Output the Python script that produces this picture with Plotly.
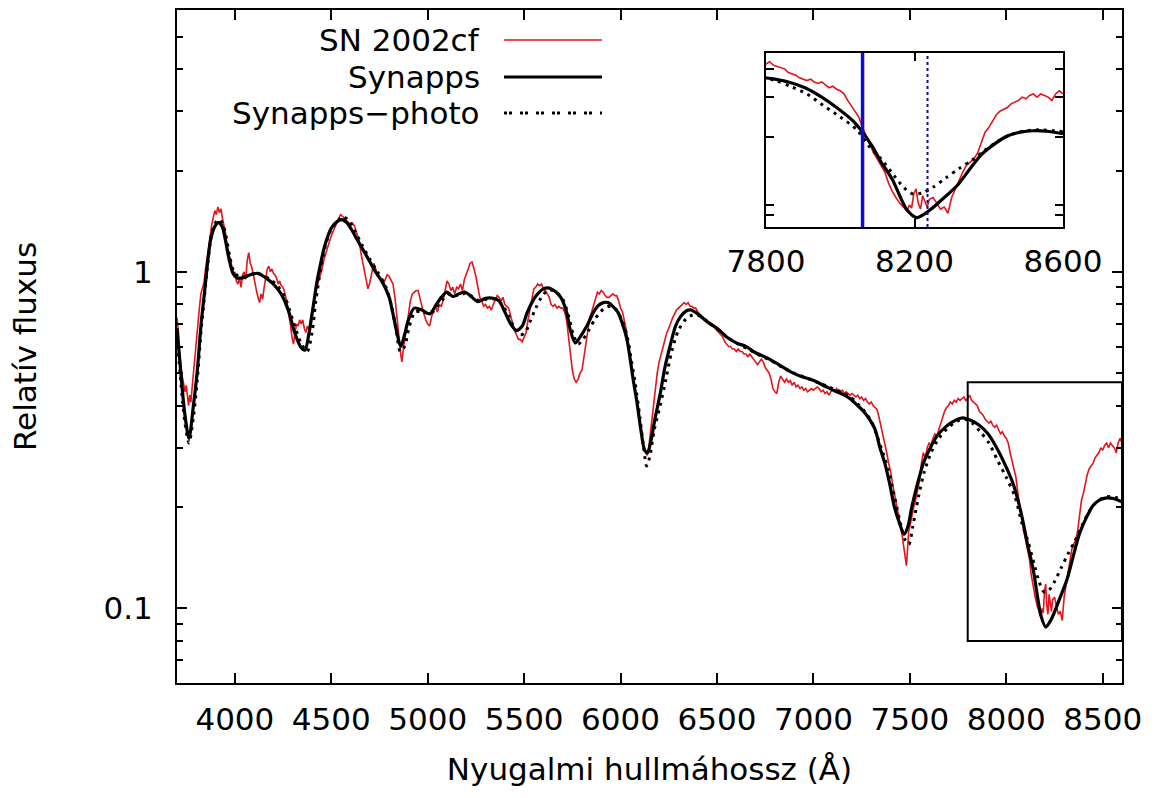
import plotly.graph_objects as go
import math

# ---------------- data ----------------
wave_obs = [3700,3706,3712,3718,3724,3730,3736,3742,3748,3754,3760,3766,3772,3778,3785,3792,3800,3808,3816,3824,3832,3840,3848,3856,3864,3872,3880,3888,3896,3904,3912,3920,3928,3936,3944,3952,3960,3968,3976,3984,3992,4000,4008,4016,4024,4032,4040,4048,4056,4064,4072,4080,4088,4096,4104,4112,4120,4128,4136,4144,4152,4160,4168,4176,4184,4192,4200,4208,4216,4224,4232,4240,4248,4256,4264,4272,4280,4288,4296,4304,4312,4320,4328,4336,4344,4352,4360,4368,4376,4384,4392,4400,4410,4420,4430,4440,4452,4464,4476,4488,4500,4512,4524,4536,4548,4560,4572,4584,4596,4608,4620,4632,4644,4656,4668,4680,4690,4700,4710,4720,4730,4740,4750,4760,4770,4780,4790,4800,4810,4820,4830,4840,4850,4860,4866,4872,4880,4890,4900,4910,4920,4930,4940,4950,4960,4970,4980,4990,5000,5010,5020,5030,5040,5050,5060,5070,5080,5090,5100,5110,5120,5130,5140,5150,5160,5170,5180,5190,5200,5210,5220,5230,5240,5250,5260,5270,5280,5290,5300,5310,5320,5330,5340,5350,5360,5370,5380,5390,5400,5410,5420,5430,5440,5450,5460,5470,5480,5490,5500,5510,5520,5530,5540,5550,5560,5570,5580,5590,5600,5610,5620,5630,5640,5650,5660,5670,5680,5690,5700,5710,5720,5730,5740,5750,5760,5770,5780,5790,5800,5810,5820,5830,5840,5850,5860,5870,5880,5890,5900,5910,5920,5930,5940,5950,5960,5970,5980,5990,6000,6010,6020,6030,6040,6050,6060,6070,6080,6090,6100,6110,6120,6130,6138,6146,6154,6162,6170,6180,6190,6200,6210,6220,6230,6240,6250,6260,6270,6280,6290,6300,6310,6320,6330,6340,6350,6360,6370,6380,6390,6400,6410,6420,6430,6440,6450,6460,6470,6480,6490,6500,6510,6520,6530,6540,6550,6560,6570,6580,6590,6600,6610,6620,6630,6640,6650,6660,6670,6680,6690,6700,6710,6720,6730,6740,6750,6760,6770,6780,6790,6800,6810,6820,6830,6840,6850,6860,6870,6880,6890,6900,6910,6920,6930,6940,6950,6960,6970,6980,6990,7000,7010,7020,7030,7040,7050,7060,7070,7080,7090,7100,7110,7120,7130,7140,7150,7160,7170,7180,7190,7200,7210,7220,7230,7240,7250,7260,7270,7280,7290,7300,7310,7320,7330,7340,7350,7360,7370,7380,7390,7400,7410,7420,7430,7440,7450,7460,7470,7476,7482,7488,7494,7500,7510,7520,7530,7540,7550,7560,7570,7580,7590,7600,7610,7620,7630,7640,7650,7660,7670,7680,7690,7700,7710,7720,7730,7740,7750,7760,7770,7780,7790,7800,7810,7820,7830,7840,7850,7860,7870,7880,7890,7900,7910,7920,7930,7940,7950,7960,7970,7980,7990,8000,8010,8020,8030,8040,8050,8060,8070,8080,8090,8100,8110,8120,8130,8140,8150,8160,8170,8180,8186,8192,8198,8204,8210,8216,8222,8228,8234,8240,8250,8260,8270,8280,8290,8300,8310,8320,8330,8340,8350,8360,8370,8380,8390,8400,8410,8420,8430,8440,8450,8460,8470,8480,8490,8500,8510,8520,8530,8540,8550,8560,8570,8580,8590,8600]
flux_obs = [0.73,0.68,0.58,0.53,0.50,0.48,0.46,0.44,0.46,0.42,0.40,0.43,0.41,0.45,0.50,0.56,0.64,0.72,0.78,0.86,0.90,0.93,1.02,1.10,1.22,1.31,1.38,1.45,1.52,1.48,1.56,1.50,1.54,1.44,1.38,1.30,1.20,1.12,1.10,1.02,0.98,1.00,0.94,0.92,0.96,0.90,0.98,1.00,0.95,1.08,1.14,1.06,1.03,0.98,0.92,0.88,0.84,0.81,0.86,0.83,0.90,0.96,1.02,1.04,1.00,1.02,0.99,0.98,0.96,0.92,0.94,0.91,0.90,0.88,0.84,0.80,0.74,0.70,0.64,0.61,0.66,0.70,0.69,0.72,0.70,0.72,0.68,0.66,0.69,0.67,0.72,0.78,0.83,0.88,0.92,0.95,1.02,1.10,1.16,1.22,1.28,1.33,1.38,1.44,1.48,1.46,1.43,1.41,1.39,1.40,1.37,1.30,1.24,1.12,1.04,0.95,0.89,0.93,1.00,1.06,1.02,0.97,0.96,0.94,0.92,0.95,0.98,0.97,0.94,0.92,0.84,0.73,0.64,0.57,0.54,0.58,0.63,0.68,0.76,0.82,0.86,0.87,0.88,0.88,0.83,0.78,0.75,0.72,0.70,0.69,0.74,0.78,0.79,0.76,0.80,0.79,0.82,0.88,0.94,0.92,0.88,0.90,0.86,0.90,0.89,0.92,0.88,0.95,0.98,1.02,1.06,1.07,1.02,0.97,0.90,0.84,0.82,0.79,0.80,0.78,0.79,0.77,0.80,0.83,0.85,0.84,0.82,0.84,0.80,0.79,0.78,0.74,0.70,0.67,0.65,0.63,0.63,0.62,0.64,0.66,0.72,0.77,0.84,0.89,0.90,0.92,0.91,0.92,0.89,0.88,0.86,0.84,0.80,0.79,0.80,0.78,0.79,0.78,0.78,0.76,0.72,0.64,0.57,0.51,0.48,0.47,0.48,0.50,0.51,0.56,0.61,0.67,0.73,0.76,0.80,0.84,0.87,0.86,0.88,0.87,0.85,0.84,0.84,0.85,0.86,0.85,0.85,0.82,0.78,0.76,0.72,0.67,0.61,0.56,0.52,0.47,0.43,0.40,0.36,0.33,0.30,0.29,0.285,0.30,0.33,0.36,0.40,0.45,0.50,0.54,0.57,0.60,0.63,0.66,0.68,0.71,0.73,0.75,0.77,0.78,0.79,0.80,0.81,0.80,0.81,0.79,0.79,0.78,0.78,0.76,0.75,0.74,0.73,0.72,0.71,0.70,0.70,0.69,0.68,0.67,0.66,0.65,0.64,0.62,0.61,0.60,0.60,0.59,0.59,0.58,0.59,0.58,0.58,0.57,0.57,0.56,0.57,0.56,0.55,0.54,0.53,0.54,0.55,0.54,0.52,0.51,0.50,0.48,0.45,0.44,0.435,0.47,0.49,0.48,0.47,0.48,0.47,0.475,0.46,0.47,0.455,0.46,0.45,0.455,0.445,0.45,0.44,0.445,0.45,0.445,0.45,0.455,0.45,0.44,0.445,0.435,0.44,0.43,0.44,0.445,0.44,0.45,0.445,0.44,0.445,0.435,0.44,0.435,0.43,0.435,0.43,0.425,0.43,0.42,0.425,0.415,0.42,0.41,0.405,0.41,0.40,0.395,0.39,0.37,0.35,0.33,0.31,0.29,0.27,0.255,0.235,0.22,0.205,0.19,0.18,0.165,0.15,0.14,0.134,0.15,0.17,0.175,0.19,0.20,0.21,0.225,0.24,0.27,0.29,0.28,0.30,0.31,0.305,0.32,0.33,0.325,0.34,0.355,0.37,0.385,0.395,0.40,0.41,0.405,0.415,0.41,0.42,0.415,0.42,0.425,0.415,0.42,0.43,0.415,0.41,0.405,0.40,0.385,0.38,0.375,0.365,0.36,0.355,0.36,0.35,0.345,0.35,0.34,0.33,0.335,0.325,0.32,0.31,0.29,0.275,0.26,0.245,0.22,0.20,0.185,0.17,0.16,0.15,0.14,0.125,0.115,0.108,0.102,0.098,0.094,0.10,0.097,0.112,0.118,0.102,0.096,0.11,0.104,0.098,0.106,0.108,0.102,0.096,0.098,0.092,0.108,0.118,0.13,0.14,0.15,0.155,0.16,0.17,0.19,0.21,0.22,0.235,0.25,0.26,0.265,0.27,0.28,0.285,0.29,0.30,0.295,0.305,0.31,0.30,0.31,0.305,0.30,0.29,0.31,0.32,0.31]

wave_syn = [3700,3720,3740,3762,3785,3804,3825,3840,3860,3875,3895,3915,3935,3950,3970,3990,4010,4040,4080,4120,4160,4200,4240,4280,4310,4340,4363,4385,4405,4425,4445,4465,4500,4530,4555,4580,4600,4640,4685,4725,4770,4800,4820,4840,4860,4880,4900,4930,4970,5010,5045,5070,5100,5130,5160,5195,5230,5260,5300,5340,5370,5400,5430,5460,5490,5515,5545,5570,5600,5630,5660,5690,5720,5740,5765,5790,5825,5855,5880,5910,5935,5960,5985,6010,6033,6050,6065,6085,6105,6125,6140,6155,6180,6204,6230,6256,6285,6310,6340,6365,6400,6450,6500,6550,6600,6650,6700,6760,6820,6880,6930,6980,7020,7060,7100,7150,7190,7230,7260,7290,7320,7345,7370,7395,7420,7445,7470,7490,7510,7540,7570,7600,7640,7690,7735,7775,7815,7860,7905,7950,7990,8035,8060,8085,8110,8140,8160,8180,8205,8225,8245,8280,8315,8350,8380,8415,8450,8485,8520,8555,8600]
flux_syn = [0.68,0.50,0.38,0.32,0.40,0.50,0.70,0.84,1.08,1.25,1.36,1.40,1.36,1.25,1.09,0.99,0.96,0.96,0.98,0.99,0.96,0.92,0.86,0.76,0.66,0.60,0.585,0.66,0.78,0.93,1.06,1.19,1.35,1.41,1.43,1.40,1.35,1.23,1.11,1.01,0.92,0.84,0.75,0.66,0.60,0.65,0.72,0.78,0.77,0.75,0.80,0.84,0.87,0.845,0.86,0.87,0.84,0.815,0.835,0.835,0.82,0.76,0.70,0.67,0.69,0.755,0.82,0.86,0.89,0.895,0.875,0.84,0.76,0.67,0.615,0.64,0.69,0.75,0.79,0.81,0.81,0.79,0.76,0.70,0.63,0.55,0.48,0.41,0.34,0.295,0.29,0.31,0.37,0.43,0.52,0.60,0.69,0.735,0.765,0.77,0.75,0.71,0.68,0.64,0.615,0.60,0.575,0.555,0.53,0.505,0.49,0.48,0.47,0.457,0.446,0.433,0.42,0.40,0.385,0.365,0.34,0.30,0.27,0.235,0.20,0.18,0.166,0.175,0.20,0.235,0.27,0.295,0.325,0.348,0.362,0.368,0.362,0.35,0.33,0.30,0.27,0.235,0.21,0.183,0.155,0.13,0.11,0.095,0.088,0.091,0.096,0.108,0.122,0.145,0.167,0.186,0.202,0.21,0.213,0.212,0.207]

wave_photo = [3700,3720,3740,3762,3785,3804,3825,3840,3860,3880,3900,3920,3940,3955,3975,3995,4020,4060,4100,4140,4180,4220,4260,4300,4340,4375,4400,4420,4445,4470,4500,4535,4560,4590,4620,4660,4700,4740,4780,4810,4835,4858,4880,4905,4935,4975,5015,5050,5080,5110,5140,5170,5200,5235,5270,5310,5350,5385,5420,5450,5480,5505,5530,5560,5595,5630,5665,5700,5730,5755,5780,5805,5835,5865,5895,5925,5950,5980,6010,6035,6055,6075,6100,6120,6135,6150,6175,6205,6235,6265,6300,6340,6375,6410,6460,6510,6560,6610,6660,6720,6780,6840,6900,6960,7020,7080,7140,7190,7230,7265,7300,7330,7360,7390,7420,7450,7475,7495,7515,7545,7575,7610,7650,7700,7745,7785,7825,7865,7910,7955,8000,8045,8080,8110,8145,8170,8195,8220,8250,8285,8320,8355,8390,8425,8460,8500,8540,8575,8600]
flux_photo = [0.64,0.47,0.36,0.31,0.37,0.47,0.67,0.82,1.07,1.30,1.40,1.43,1.37,1.27,1.10,1.00,0.97,0.97,0.99,0.98,0.95,0.91,0.84,0.72,0.62,0.58,0.66,0.82,1.02,1.20,1.34,1.42,1.46,1.42,1.33,1.20,1.09,1.00,0.91,0.80,0.68,0.58,0.60,0.69,0.76,0.76,0.75,0.79,0.83,0.86,0.85,0.855,0.865,0.84,0.82,0.83,0.83,0.80,0.74,0.68,0.65,0.66,0.71,0.78,0.85,0.885,0.87,0.83,0.74,0.65,0.61,0.63,0.67,0.72,0.76,0.785,0.79,0.77,0.71,0.64,0.55,0.47,0.37,0.30,0.265,0.28,0.34,0.40,0.48,0.58,0.67,0.725,0.745,0.74,0.705,0.67,0.635,0.61,0.59,0.565,0.545,0.52,0.50,0.485,0.47,0.455,0.44,0.425,0.405,0.385,0.36,0.325,0.29,0.255,0.215,0.18,0.16,0.155,0.175,0.215,0.255,0.29,0.32,0.345,0.36,0.365,0.355,0.335,0.31,0.275,0.245,0.215,0.18,0.16,0.135,0.12,0.112,0.113,0.12,0.132,0.145,0.158,0.175,0.192,0.205,0.213,0.215,0.213,0.211]

x_ticks = [4000, 4500, 5000, 5500, 6000, 6500, 7000, 7500, 8000, 8500]
y_ticks = [0.1, 1]
y_ticktext = ["0.1", "1"]
y_minor = [0.06, 0.07, 0.08, 0.09, 0.2, 0.3, 0.4, 0.5, 0.6, 0.7, 0.8, 0.9, 2, 3, 4, 5, 6]
inset_x_ticks = [7800, 8200, 8600]
inset_y_ticks = [0.09, 0.1, 0.2, 0.3, 0.4]
zoom_box = {"x": [7800, 8600], "y": [0.08, 0.47]}
marker_lines = {"solid": 8060, "dotted": 8235}
legend_names = ["SN 2002cf", "Synapps", "Synapps\u2212photo"]

FONT = "DejaVu Sans, Verdana, sans-serif"
FS = 31
RED = "#e3141b"
BLACK = "#000000"

fig = go.Figure()

def add_set(xa, ya):
    fig.add_trace(go.Scatter(x=wave_obs, y=flux_obs, mode="lines", xaxis=xa, yaxis=ya,
                             line=dict(color=RED, width=1.6), name=legend_names[0], showlegend=False))
    fig.add_trace(go.Scatter(x=wave_syn, y=flux_syn, mode="lines", xaxis=xa, yaxis=ya,
                             line=dict(color=BLACK, width=3.2, shape="spline", smoothing=0.8),
                             name=legend_names[1], showlegend=False))
    fig.add_trace(go.Scatter(x=wave_photo, y=flux_photo, mode="lines", xaxis=xa, yaxis=ya,
                             line=dict(color=BLACK, width=3, dash="3px,5px", shape="spline", smoothing=0.8),
                             name=legend_names[2], showlegend=False))

add_set("x", "y")
add_set("x2", "y2")

axis_common = dict(showline=True, linecolor="black", linewidth=2, mirror="ticks", automargin=False,
                   ticks="inside", tickcolor="black", tickwidth=1.5, showgrid=False, zeroline=False,
                   tickfont=dict(family=FONT, size=FS, color="black"))

fig.update_layout(
    width=1156, height=798,
    margin=dict(l=177, r=34, t=10, b=115),
    paper_bgcolor="white", plot_bgcolor="white",
    showlegend=False,
    xaxis=dict(range=[3700, 8600], tickvals=x_ticks, ticklen=10, ticklabelstandoff=8,
               title=dict(text="Nyugalmi hullmáhossz (Å)", font=dict(family=FONT, size=FS, color="black"), standoff=22),
               **axis_common),
    yaxis=dict(type="log", range=[math.log10(0.06), math.log10(6)], tickvals=y_ticks, ticktext=y_ticktext,
               ticklen=10, ticklabelstandoff=16,
               minor=dict(tickvals=y_minor, ticks="inside", ticklen=6, tickcolor="black", tickwidth=1.5),
               title=dict(text="Relatív fluxus", font=dict(family=FONT, size=FS, color="black"), standoff=58),
               **axis_common),
    xaxis2=dict(domain=[0.6233, 0.9376], anchor="y2", range=[7800, 8600], tickvals=inset_x_ticks,
                ticklen=8, ticklabelstandoff=6, **axis_common),
    yaxis2=dict(domain=[0.6776, 0.9361], anchor="x2", type="log",
                range=[math.log10(zoom_box["y"][0]), math.log10(zoom_box["y"][1])],
                tickvals=inset_y_ticks, showticklabels=False, ticklen=8, **axis_common),
)

# zoom rectangle in main panel
fig.add_shape(type="rect", xref="x", yref="y", x0=zoom_box["x"][0], x1=zoom_box["x"][1],
              y0=zoom_box["y"][0], y1=zoom_box["y"][1], line=dict(color="black", width=2), layer="above")

# marker lines in the inset
fig.add_shape(type="line", xref="x2", yref="y2 domain", x0=marker_lines["solid"], x1=marker_lines["solid"],
              y0=0, y1=1, line=dict(color="#0c0cd8", width=3.5))
fig.add_shape(type="line", xref="x2", yref="y2 domain", x0=marker_lines["dotted"], x1=marker_lines["dotted"],
              y0=0, y1=1, line=dict(color="#10108a", width=2, dash="3px,3px"))

# manual legend (text right-aligned, sample to the right)
def px2paper_x(px):
    return (px - 177) / 945.0

def px2paper_y(py):
    return (683 - py) / 673.0

rows = [40, 77, 113]
styles = [dict(color=RED, width=1.6), dict(color=BLACK, width=3.2), dict(color=BLACK, width=3, dash="3px,2px,3px,8px")]
for name, row, st in zip(legend_names, rows, styles):
    fig.add_annotation(x=px2paper_x(482), y=px2paper_y(row), xref="paper", yref="paper",
                       text=name, showarrow=False, xanchor="right", yanchor="middle",
                       font=dict(family=FONT, size=FS, color="black"))
    fig.add_shape(type="line", xref="paper", yref="paper", x0=px2paper_x(504), x1=px2paper_x(602),
                  y0=px2paper_y(row), y1=px2paper_y(row), line=st)

fig.write_html("out.html")
